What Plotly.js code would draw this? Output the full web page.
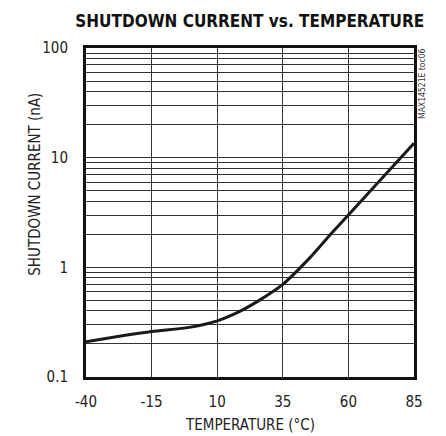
<!DOCTYPE html>
<html><head><meta charset="utf-8">
<script src="https://cdn.plot.ly/plotly-3.0.1.min.js"></script>
<style>html,body{margin:0;padding:0;background:#fff}#chart{width:446px;height:436px}</style>
</head><body><div id="chart"></div>
<script>
const temperature = [-40, -25, -15, 0, 10, 18, 26, 35, 45, 54, 60, 72, 85];
const shutdownCurrent = [0.21, 0.24, 0.26, 0.285, 0.325, 0.39, 0.50, 0.70, 1.2, 2.1, 3.0, 6.2, 13.5];
const xTicks = [-40, -15, 10, 35, 60, 85];
const yTickVals = [];
const yTickText = [];
[0.1, 1, 10].forEach(d => { for (let k = 1; k <= 9; k++) { yTickVals.push(+(d * k).toPrecision(3)); yTickText.push(k === 1 ? String(d) : ''); } });
yTickVals.push(100); yTickText.push('100');

const fontFam = '"DejaVu Sans Condensed", "Liberation Sans Narrow", sans-serif';
const trace = { x: temperature, y: shutdownCurrent, type: 'scatter', mode: 'lines', line: { color: '#1a1a1a', width: 3, shape: 'spline', smoothing: 0.8 }, hoverinfo: 'none' };
const layout = {
  width: 446, height: 436,
  margin: { l: 86, r: 32, t: 48, b: 59 },
  paper_bgcolor: '#fff', plot_bgcolor: '#fff',
  showlegend: false,
  title: { text: '<b>SHUTDOWN CURRENT vs. TEMPERATURE</b>', font: { family: fontFam, size: 17, color: '#111' }, x: 0.56, xanchor: 'center', y: 0.952, yanchor: 'middle' },
  xaxis: {
    range: [-40, 85], tickvals: xTicks, ticktext: xTicks.map(String), ticks: '',
    showgrid: true, gridcolor: '#333', gridwidth: 1, zeroline: false,
    showline: true, linecolor: '#111', linewidth: 3, mirror: true,
    tickfont: { family: fontFam, size: 15, color: '#222' }, ticklabelstandoff: 9
  },
  yaxis: {
    type: 'log', range: [-1, 2], tickvals: yTickVals, ticktext: yTickText, ticks: '',
    showgrid: true, gridcolor: '#333', gridwidth: 1, zeroline: false,
    showline: true, linecolor: '#111', linewidth: 3, mirror: true,
    tickfont: { family: fontFam, size: 15, color: '#222' }, ticklabelstandoff: 12
  },
  annotations: [
    { text: 'TEMPERATURE (°C)', xref: 'paper', yref: 'paper', x: 0.5, y: -0.146, xanchor: 'center', yanchor: 'middle', showarrow: false, font: { family: fontFam, size: 15, color: '#222' } },
    { text: 'SHUTDOWN CURRENT (nA)', xref: 'paper', yref: 'paper', x: -0.158, y: 0.585, xanchor: 'center', yanchor: 'middle', textangle: -90, showarrow: false, font: { family: fontFam, size: 15, color: '#222' } },
    { text: 'MAX14521E toc06', xref: 'paper', yref: 'paper', x: 1.024, y: 1.003, xanchor: 'center', yanchor: 'top', textangle: -90, showarrow: false, font: { family: fontFam, size: 8.5, color: '#333' } }
  ]
};
Plotly.newPlot('chart', [trace], layout, { displayModeBar: false, staticPlot: true });
</script></body></html>
